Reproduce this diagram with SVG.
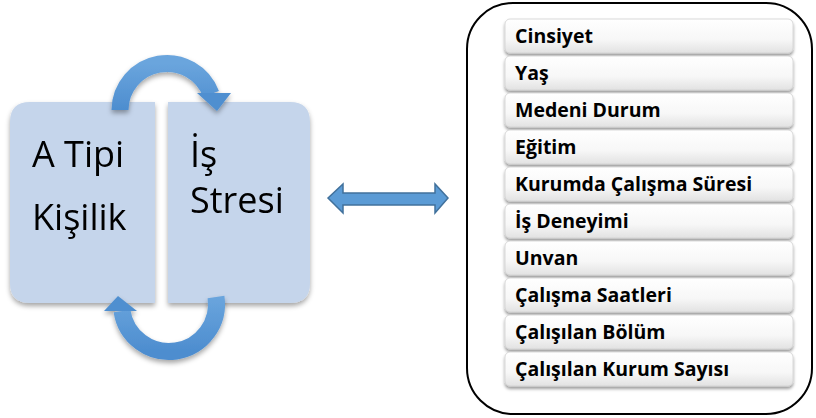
<svg xmlns="http://www.w3.org/2000/svg" width="816" height="418" viewBox="0 0 816 418">
<defs>
<style>
.big{font-family:"Open Sans","Liberation Sans",sans-serif;font-size:36px;fill:#000}
.item{font-family:"Open Sans","Liberation Sans",sans-serif;font-size:19.5px;font-weight:bold;fill:#000}
.box{fill:#c5d5eb}
.bar{fill:url(#barg);stroke:#d0d0d0;stroke-width:0.8}
.arc{fill:none;stroke:url(#arcg);stroke-width:17}
.head{fill:#4f8fd0}
</style>
<linearGradient id="barg" x1="0" y1="0" x2="0" y2="1">
<stop offset="0" stop-color="#ffffff"/>
<stop offset="0.6" stop-color="#f7f7f7"/>
<stop offset="1" stop-color="#e2e2e2"/>
</linearGradient>
<linearGradient id="arcg" x1="0" y1="0" x2="0" y2="1">
<stop offset="0" stop-color="#6aa5dd"/>
<stop offset="1" stop-color="#4d8dcf"/>
</linearGradient>
<filter id="sh" x="-20%" y="-20%" width="140%" height="150%">
<feDropShadow dx="0" dy="3" stdDeviation="2.5" flood-color="#000" flood-opacity="0.35"/>
</filter>
<filter id="sh2" x="-10%" y="-30%" width="120%" height="170%">
<feDropShadow dx="0" dy="2.5" stdDeviation="1.8" flood-color="#000" flood-opacity="0.4"/>
</filter>
</defs>

<g id="node-a-tipi" filter="url(#sh)">
<path class="box" d="M30,102 H155 V303 H30 Q10,303 10,283 V122 Q10,102 30,102 Z"/>
<text class="big" x="32" y="167">A Tipi</text>
<text class="big" x="32" y="230">Kişilik</text>
</g>

<g id="node-is-stresi" filter="url(#sh)">
<path class="box" d="M168,102 H290 Q310,102 310,122 V283 Q310,303 290,303 H168 Z"/>
<text class="big" x="190" y="167">İş</text>
<text class="big" x="190" y="213">Stresi</text>
</g>

<g id="connectors">
<g id="cycle-top" filter="url(#sh)">
<path class="arc" d="M120,110 A47,47 0 0 1 211,94"/>
<polygon class="head" points="197,93 231,93 217,111"/>
</g>
<g id="cycle-bottom" filter="url(#sh)">
<path class="arc" d="M216,297 A47,47 0 0 1 122,311"/>
<polygon class="head" points="104,311 137,311 118,296"/>
</g>
<polygon id="double-arrow" points="328,198 343,184 343,193 435,193 435,184 448,198 435,213 435,205 343,205 343,213" fill="#5b9bd5" stroke="#41719c" stroke-width="1.5" stroke-linejoin="miter"/>
</g>

<g id="node-demographics">
<rect x="467" y="3" width="345" height="411" rx="46" ry="46" fill="#fff" stroke="#000" stroke-width="2"/>
<g id="item-1"><rect class="bar" x="505" y="19" width="288" height="34" rx="5" filter="url(#sh2)"/><text class="item" x="515" y="43">Cinsiyet</text></g>
<g id="item-2"><rect class="bar" x="505" y="56" width="288" height="34" rx="5" filter="url(#sh2)"/><text class="item" x="515" y="80">Yaş</text></g>
<g id="item-3"><rect class="bar" x="505" y="93" width="288" height="34" rx="5" filter="url(#sh2)"/><text class="item" x="515" y="117">Medeni Durum</text></g>
<g id="item-4"><rect class="bar" x="505" y="130" width="288" height="34" rx="5" filter="url(#sh2)"/><text class="item" x="515" y="154">Eğitim</text></g>
<g id="item-5"><rect class="bar" x="505" y="167" width="288" height="34" rx="5" filter="url(#sh2)"/><text class="item" x="515" y="191">Kurumda Çalışma Süresi</text></g>
<g id="item-6"><rect class="bar" x="505" y="204" width="288" height="34" rx="5" filter="url(#sh2)"/><text class="item" x="515" y="228">İş Deneyimi</text></g>
<g id="item-7"><rect class="bar" x="505" y="241" width="288" height="34" rx="5" filter="url(#sh2)"/><text class="item" x="515" y="265">Unvan</text></g>
<g id="item-8"><rect class="bar" x="505" y="278" width="288" height="34" rx="5" filter="url(#sh2)"/><text class="item" x="515" y="302">Çalışma Saatleri</text></g>
<g id="item-9"><rect class="bar" x="505" y="315" width="288" height="34" rx="5" filter="url(#sh2)"/><text class="item" x="515" y="339">Çalışılan Bölüm</text></g>
<g id="item-10"><rect class="bar" x="505" y="352" width="288" height="34" rx="5" filter="url(#sh2)"/><text class="item" x="515" y="376">Çalışılan Kurum Sayısı</text></g>
</g>
</svg>
